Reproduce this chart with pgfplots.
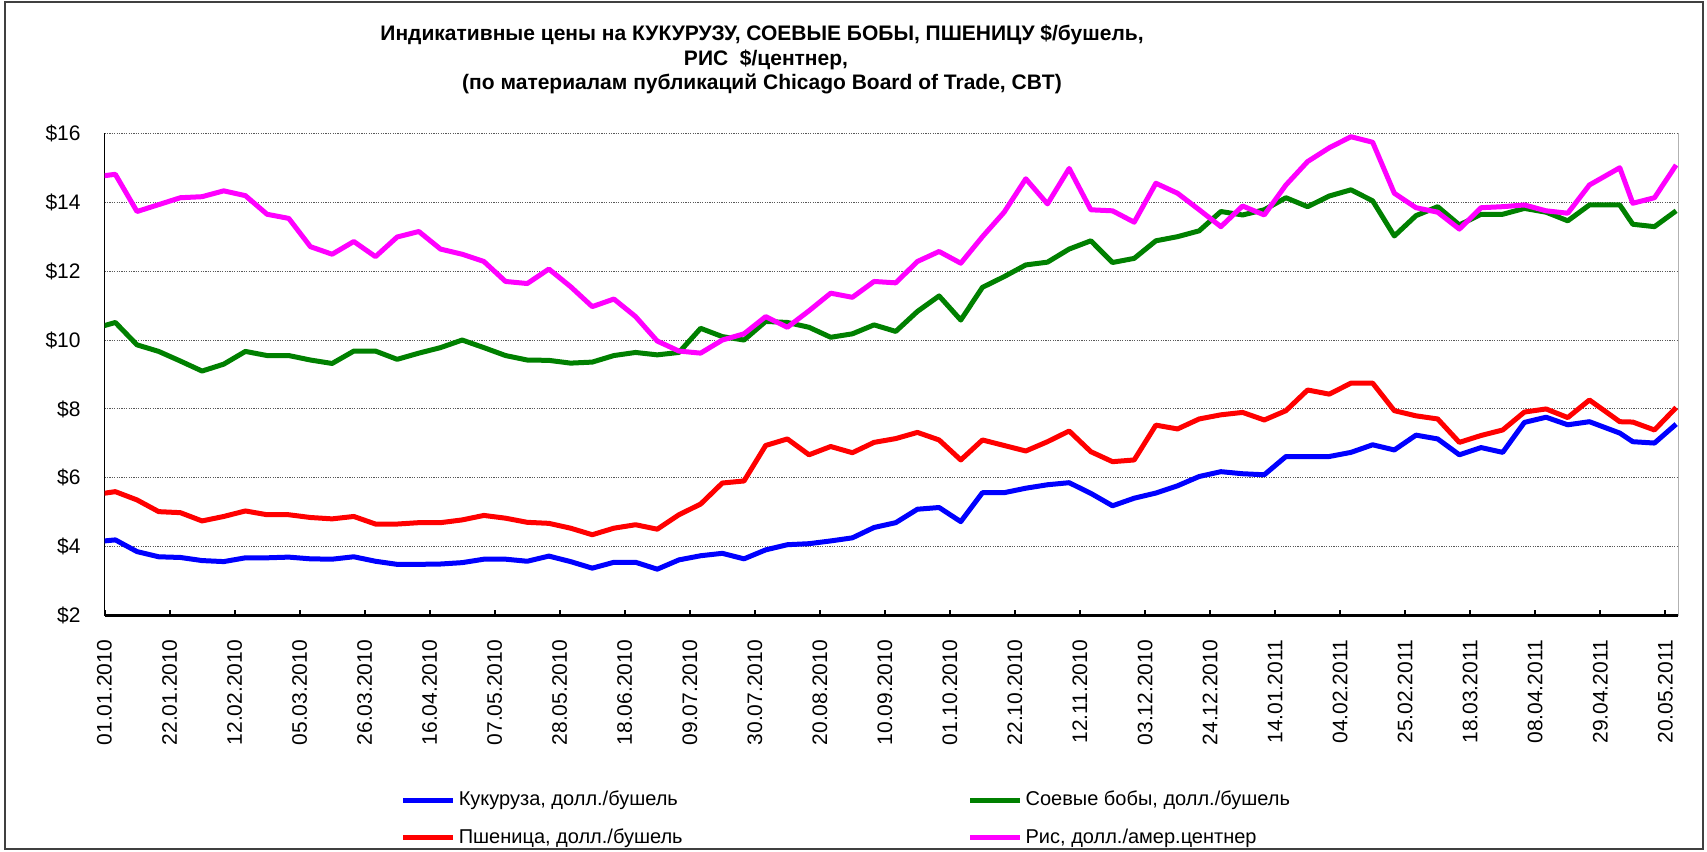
\documentclass[border=0pt]{standalone}
\usepackage{fontspec}
\setmainfont{Liberation Sans}
\usepackage{pgfplots}
\usepackage{pgfplotstable}
\pgfplotsset{compat=1.18}
\definecolor{cornblue}{RGB}{0,0,255}
\definecolor{soygreen}{RGB}{0,128,0}
\definecolor{wheatred}{RGB}{255,0,0}
\definecolor{ricemag}{RGB}{255,0,255}

% weekly prices, x = week index (first visible week = 0)
\pgfplotstableread{
x    corn  soy    wheat  rice
-1   4.14  10.33  5.51   14.73
0    4.20  10.51  5.60   14.81
1    3.86  9.86   5.36   13.73
2    3.71  9.67   5.02   13.93
3    3.69  9.39   4.99   14.13
4    3.60  9.10   4.75   14.16
5    3.57  9.30   4.88   14.33
6    3.68  9.67   5.04   14.19
7    3.68  9.55   4.93   13.65
8    3.70  9.55   4.93   13.53
9    3.65  9.42   4.85   12.71
10   3.64  9.32   4.81   12.49
11   3.71  9.68   4.88   12.86
12   3.58  9.68   4.66   12.42
13   3.49  9.44   4.66   12.99
14   3.49  9.62   4.70   13.15
15   3.50  9.78   4.70   12.64
16   3.54  10.00  4.78   12.49
17   3.64  9.78   4.91   12.28
18   3.64  9.55   4.83   11.70
19   3.58  9.42   4.71   11.64
20   3.73  9.41   4.68   12.06
21   3.57  9.33   4.54   11.55
22   3.38  9.36   4.35   10.97
23   3.55  9.55   4.54   11.19
24   3.55  9.64   4.64   10.68
25   3.35  9.57   4.51   9.97
26   3.62  9.64   4.93   9.68
27   3.74  10.34  5.24   9.62
28   3.81  10.10  5.85   10.00
29   3.65  10.00  5.91   10.18
30   3.91  10.54  6.94   10.68
31   4.06  10.51  7.13   10.37
32   4.09  10.37  6.67   10.85
33   4.17  10.08  6.91   11.36
34   4.26  10.18  6.73   11.24
35   4.56  10.44  7.03   11.70
36   4.70  10.25  7.14   11.66
37   5.09  10.83  7.32   12.28
38   5.14  11.28  7.10   12.57
39   4.73  10.58  6.52   12.23
40   5.57  11.53  7.10   13.00
41   5.57  11.84  6.94   13.71
42   5.70  12.18  6.78   14.68
43   5.80  12.26  7.05   13.95
44   5.86  12.64  7.36   14.98
45   5.55  12.88  6.76   13.78
46   5.19  12.25  6.47   13.75
47   5.41  12.37  6.52   13.42
48   5.56  12.88  7.53   14.55
49   5.77  13.00  7.42   14.26
50   6.04  13.17  7.71   13.78
51   6.18  13.73  7.83   13.29
52   6.12  13.63  7.90   13.89
53   6.09  13.78  7.68   13.63
54   6.62  14.13  7.95   14.50
55   6.62  13.87  8.55   15.18
56   6.62  14.18  8.43   15.58
57   6.74  14.36  8.75   15.90
58   6.96  14.04  8.75   15.74
59   6.81  13.02  7.95   14.26
60   7.24  13.61  7.80   13.84
61   7.13  13.87  7.71   13.71
62   6.67  13.34  7.03   13.22
63   6.88  13.65  7.23   13.84
64   6.74  13.65  7.39   13.87
65   7.61  13.82  7.91   13.92
66   7.76  13.71  8.00   13.75
67   7.54  13.46  7.75   13.68
68   7.63  13.92  8.26   14.50
69.4 7.30  13.92  7.63   15.00
70   7.05  13.36  7.62   13.97
71   7.01  13.29  7.39   14.13
72   7.56  13.75  8.04   15.08
}\prices

\begin{document}
\begin{tikzpicture}
\path[use as bounding box] (0pt,0pt) rectangle (853.5pt,425.5pt);
\draw[black!75, line width=0.8pt] (2.5pt,1pt) rectangle (851.5pt,424.5pt);
\begin{scope}[every node/.style={font=\bfseries\fontsize{10.5}{12}\selectfont}]
\node at (381pt,408pt) {Индикативные цены на КУКУРУЗУ, СОЕВЫЕ БОБЫ, ПШЕНИЦУ \$/бушель,};
\node at (383pt,395.5pt) {РИС\ \ \$/центнер,};
\node at (381pt,383.5pt) {(по материалам публикаций Chicago Board of Trade, CBT)};
\end{scope}
\begin{axis}[
 at={(52.25pt,117.65pt)}, anchor=south west,
 scale only axis, width=786.9pt, height=241.2pt,
 xmin=-0.5, xmax=72.1, ymin=2, ymax=16,
 axis lines*=left,
 x axis line style={-, line width=1.3pt},
 y axis line style={-, line width=0.7pt},
 ytick={2,4,...,16},
 yticklabel={\$\pgfmathprintnumber{\tick}},
 /pgf/number format/assume math mode=true,
 ymajorgrids,
 major grid style={black!65, line width=0.5pt, dash pattern=on 0.6pt off 0.6pt},
 ytick style={draw=none},
 xtick={-0.5,2.5,...,71.5},
 xticklabels={01.01.2010,22.01.2010,12.02.2010,05.03.2010,26.03.2010,16.04.2010,07.05.2010,28.05.2010,18.06.2010,09.07.2010,30.07.2010,20.08.2010,10.09.2010,01.10.2010,22.10.2010,12.11.2010,03.12.2010,24.12.2010,14.01.2011,04.02.2011,25.02.2011,18.03.2011,08.04.2011,29.04.2011,20.05.2011},
 tick align=inside,
 xtick style={black, line width=1pt},
 major tick length=3pt,
 ticklabel style={font=\fontsize{10.5}{12}\selectfont},
 xticklabel style={rotate=90, anchor=east, inner sep=0pt},
 xticklabel shift=12pt,
 yticklabel style={anchor=east, inner sep=0pt},
 yticklabel shift=11.75pt,
 legend columns=2,
 legend cell align=left,
 legend image code/.code={\draw[#1] (0pt,0pt) -- (25pt,0pt);},
 legend style={draw=none, fill=none, inner sep=0pt, row sep=7pt,
   font=\fontsize{10}{12}\selectfont,
   at={(0.188,-0.357)}, anchor=north west,
   nodes={inner sep=1.5pt},
   /tikz/every even column/.append style={column sep=141pt}},
 every axis plot/.append style={line width=2.5pt, line join=round},
 after end axis/.code={\draw[black!30, line width=0.6pt] (rel axis cs:1,0) -- (rel axis cs:1,1);},
]
\addplot[cornblue] table[x=x, y=corn] {\prices};
\addlegendentry{Кукуруза, долл./бушель}
\addplot[soygreen] table[x=x, y=soy] {\prices};
\addlegendentry{Соевые бобы, долл./бушель}
\addplot[wheatred] table[x=x, y=wheat] {\prices};
\addlegendentry{Пшеница, долл./бушель}
\addplot[ricemag] table[x=x, y=rice] {\prices};
\addlegendentry{Рис, долл./амер.центнер}
\end{axis}
\end{tikzpicture}
\end{document}
